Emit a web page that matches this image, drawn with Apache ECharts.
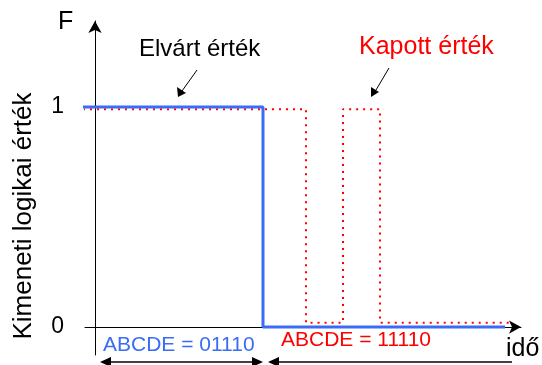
<!DOCTYPE html>
<html><head><meta charset="utf-8">
<script src="https://cdn.jsdelivr.net/npm/echarts@6/dist/echarts.min.js"></script>
<style>html,body{margin:0;padding:0;background:#fff}#c{width:542px;height:365px}</style>
</head><body><div id="c"></div>
<script>
// time (arbitrary units), logic value
const expectedX = [-1.2, 16.8, 16.8, 41.0];
const expectedY = [1, 1, 0, 0];
const obtainedX = [-1.2, 21.1, 21.1, 24.8, 24.8, 28.5, 28.5, 41.5];
const obtainedY = [0.99, 0.99, 0.02, 0.02, 0.99, 0.99, 0.02, 0.02];
const yTicks = [0, 1];
const yTickLabels = ['0', '1'];
const yTitle = 'Kimeneti logikai érték';
const labelExpected = 'Elvárt érték';
const labelObtained = 'Kapott érték';
const codeExpected = 'ABCDE = 01110';
const codeObtained = 'ABCDE = 11110';

const FONT = '"Liberation Sans", Arial, sans-serif';
const chart = echarts.init(document.getElementById('c'), null, {renderer: 'canvas'});

function tri(pts, color) {
  return {type: 'polygon', shape: {points: pts}, style: {fill: color || '#000'}, silent: true};
}
function ln(x1, y1, x2, y2, w) {
  return {type: 'line', shape: {x1, y1, x2, y2}, style: {stroke: '#000', lineWidth: w || 1}, silent: true};
}
function txt(x, y, t, size, color, extra) {
  return Object.assign({type: 'text', x, y, style: {text: t, font: size + 'px ' + FONT, fill: color || '#000', align: 'left', verticalAlign: 'middle'}, silent: true}, extra || {});
}

chart.setOption({
  animation: false,
  backgroundColor: '#fff',
  grid: {left: 85, right: 21, top: 21, bottom: 10, containLabel: false},
  xAxis: {
    type: 'value', min: -1, max: 42.6,
    axisLine: {onZero: true, symbol: ['none', 'arrow'], symbolSize: [10, 12], lineStyle: {color: '#000', width: 1}},
    axisTick: {show: false}, axisLabel: {show: false}, splitLine: {show: false}
  },
  yAxis: {
    type: 'value', min: -0.127, max: 1.391,
    axisLine: {show: true, onZero: true, symbol: ['none', 'arrow'], symbolSize: [10, 12], lineStyle: {color: '#000', width: 1}},
    axisTick: {show: false},
    axisLabel: {
      customValues: yTicks, margin: 21, fontSize: 23, color: '#000', fontFamily: FONT,
      formatter: v => yTickLabels[yTicks.indexOf(Math.round(v))] ?? ''
    },
    splitLine: {show: false}
  },
  series: [
    {
      type: 'line', clip: false, symbol: 'none',
      data: obtainedX.map((x, i) => [x, obtainedY[i]]),
      lineStyle: {color: '#ff0000', width: 2, type: [2, 5]}, z: 2
    },
    {
      type: 'line', clip: false, symbol: 'none',
      data: expectedX.map((x, i) => [x, expectedY[i]]),
      lineStyle: {color: '#3a6cf4', width: 3}, z: 3
    }
  ],
  graphic: [
    txt(58, 22, 'F', 25, '#000'),
    txt(24, 216, yTitle, 26, '#000', {rotation: Math.PI / 2, style: {text: yTitle, font: '26px ' + FONT, fill: '#000', align: 'center', verticalAlign: 'middle'}}),
    txt(139, 49, labelExpected, 24, '#000'),
    ln(197, 70, 182, 91),
    tri([[178, 97], [177, 87], [186, 93]]),
    txt(359, 47, labelObtained, 25, '#ff0000'),
    ln(389, 68, 376, 90),
    tri([[371, 97], [371, 87], [379, 92]]),
    txt(103, 345, codeExpected, 21, '#3a6cf4'),
    txt(281, 340, codeObtained, 21, '#ff0000'),
    txt(506, 349, 'idő', 25, '#000'),
    ln(108, 362, 255, 362, 1.5),
    tri([[100, 362], [111, 357], [111, 367]]),
    tri([[263, 362], [252, 357], [252, 367]]),
    ln(276, 362, 512, 362, 1.5),
    tri([[268, 362], [279, 357], [279, 367]])
  ]
});
</script>
</body></html>
